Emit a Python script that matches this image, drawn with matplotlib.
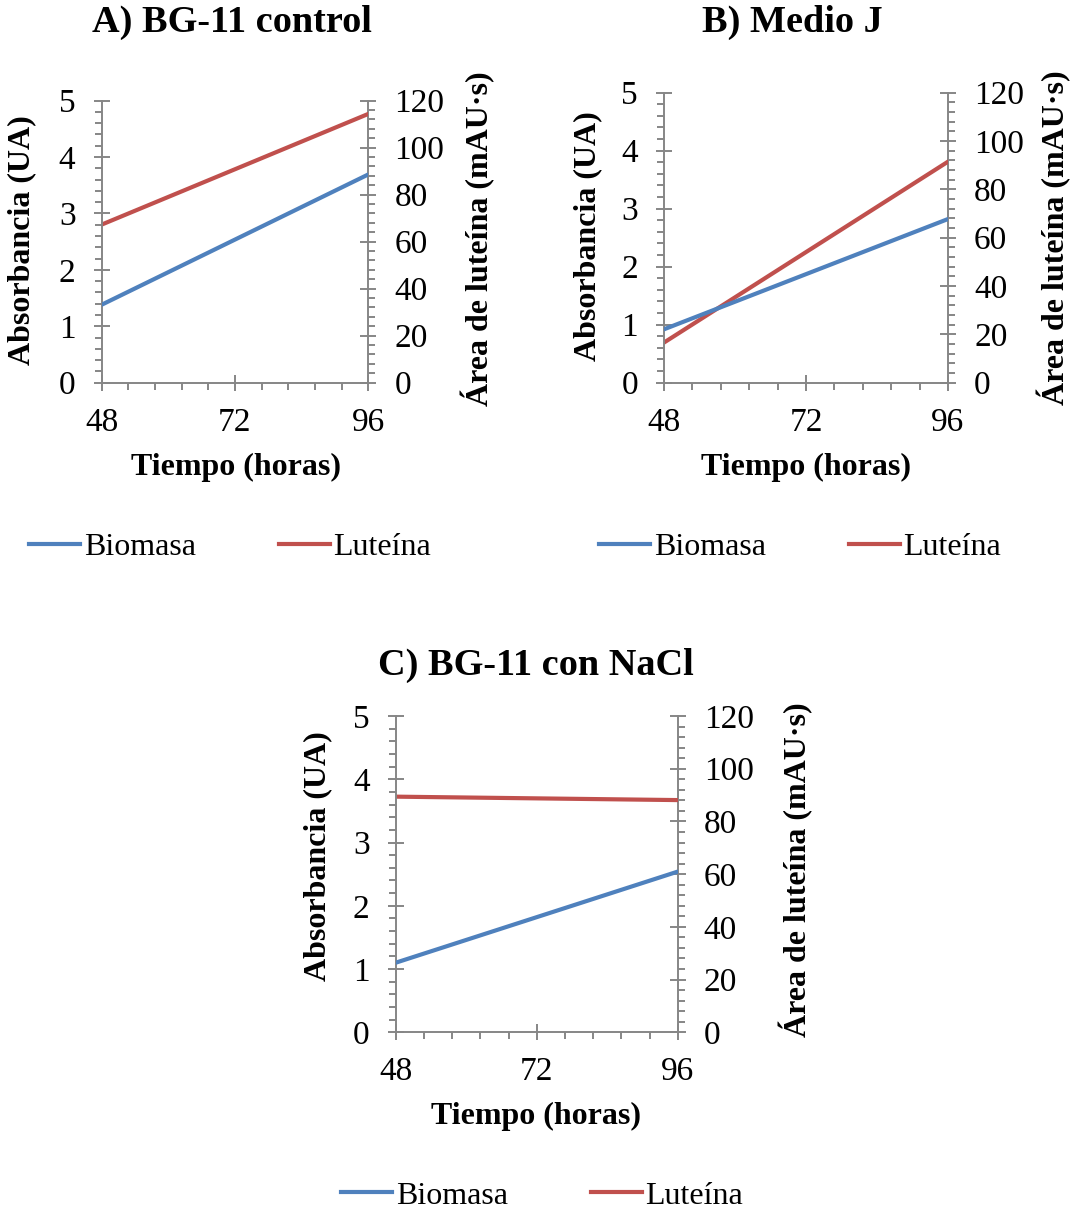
import matplotlib
matplotlib.use("Agg")
import matplotlib.pyplot as plt
from matplotlib.ticker import MultipleLocator, FixedLocator
from matplotlib.lines import Line2D

plt.rcParams['font.family'] = ['Liberation Serif', 'DejaVu Serif']

# Data
tiempo = [48, 96]
titles = ["A) BG-11 control", "B) Medio J", "C) BG-11 con NaCl"]
biomasa = {
    "A": [1.38, 3.69],
    "B": [0.92, 2.82],
    "C": [1.10, 2.54],
}
luteina = {
    "A": [67.2, 114.3],
    "B": [16.6, 91.4],
    "C": [89.4, 88.1],
}
x_ticks = [48, 72, 96]
series_names = ["Biomasa", "Luteína"]

BLUE = "#4F81BD"
RED = "#C0504D"
GRAY = "#868686"

W, H = 1073, 1212
fig = plt.figure(figsize=(W / 100, H / 100), dpi=100)


def px_axes(x0, y0, x1, y1):
    # pixel box (left, top, right, bottom) -> figure fraction
    return fig.add_axes([x0 / W, 1 - y1 / H, (x1 - x0) / W, (y1 - y0) / H])


def fx(x):
    return x / W


def fy(y):
    return 1 - y / H


panels = [
    dict(key="A", box=(101.5, 100.5, 368.3, 382.7), title=(232, 22),
         xlab=(236, 467), ylab=(22, 240), rlab=(478, 239), leg=(230, 547)),
    dict(key="B", box=(664, 92.5, 948, 382.7), title=(792, 22),
         xlab=(806, 467), ylab=(588, 236), rlab=(1054, 238), leg=(800, 547)),
    dict(key="C", box=(395.7, 716, 677.7, 1032.3), title=(536, 665),
         xlab=(536, 1116), ylab=(318, 856), rlab=(796, 870), leg=(542, 1196)),
]

TICK_FS = 24
LAB_FS = 23
LW = 3.0
for i, p in enumerate(panels):
    k = p["key"]
    ax = px_axes(*p["box"])
    ax2 = ax.twinx()
    ax.set_zorder(2)
    ax.patch.set_visible(False)

    ax.plot(tiempo, biomasa[k], color=BLUE, lw=LW, solid_capstyle='round', zorder=3)
    ax2.plot(tiempo, luteina[k], color=RED, lw=LW, solid_capstyle='round', zorder=3)

    ax.set_xlim(48, 96)
    ax.set_ylim(0, 5)
    ax2.set_ylim(0, 120)
    ax.xaxis.set_major_locator(FixedLocator(x_ticks))
    ax.xaxis.set_minor_locator(FixedLocator([48 + 4.8 * j for j in range(1, 10) if j != 5]))
    ax.yaxis.set_major_locator(MultipleLocator(1))
    ax.yaxis.set_minor_locator(MultipleLocator(0.2))
    ax2.yaxis.set_major_locator(MultipleLocator(20))
    ax2.yaxis.set_minor_locator(MultipleLocator(4))

    for s in ["top", "right"]:
        ax.spines[s].set_visible(False)
    for s in ["top", "left", "bottom"]:
        ax2.spines[s].set_visible(False)
    for sp in [ax.spines["left"], ax.spines["bottom"], ax2.spines["right"]]:
        sp.set_color(GRAY)
        sp.set_linewidth(1.4)

    for a in (ax, ax2):
        a.tick_params(which="major", direction="inout", length=11.5, width=1.4,
                      color=GRAY, labelsize=TICK_FS, labelcolor="black")
        a.tick_params(which="minor", direction="out", length=5, width=1.4, color=GRAY)
    ax.tick_params(axis="y", which="major", pad=13)
    ax.tick_params(axis="x", which="major", pad=12)
    ax2.tick_params(axis="y", which="major", pad=13)

    fig.text(fx(p["title"][0]), fy(p["title"][1]), titles[i], ha="center", va="center",
             fontsize=27.5, fontweight="bold")
    fig.text(fx(p["xlab"][0]), fy(p["xlab"][1]), "Tiempo (horas)", ha="center", va="center",
             fontsize=LAB_FS, fontweight="bold")
    fig.text(fx(p["ylab"][0]), fy(p["ylab"][1]), "Absorbancia (UA)", ha="center", va="center",
             fontsize=LAB_FS, fontweight="bold", rotation=90)
    fig.text(fx(p["rlab"][0]), fy(p["rlab"][1]), "Área de luteína (mAU·s)", ha="center",
             va="center", fontsize=LAB_FS, fontweight="bold", rotation=90)

    handles = [Line2D([], [], color=BLUE, lw=LW), Line2D([], [], color=RED, lw=LW)]
    fig.legend(handles, series_names, loc="center", ncol=2,
               bbox_to_anchor=(fx(p["leg"][0]), fy(p["leg"][1])), frameon=False,
               fontsize=LAB_FS, handlelength=1.6, handletextpad=0.1, columnspacing=2.6)

fig.savefig("out.png", dpi=100)
